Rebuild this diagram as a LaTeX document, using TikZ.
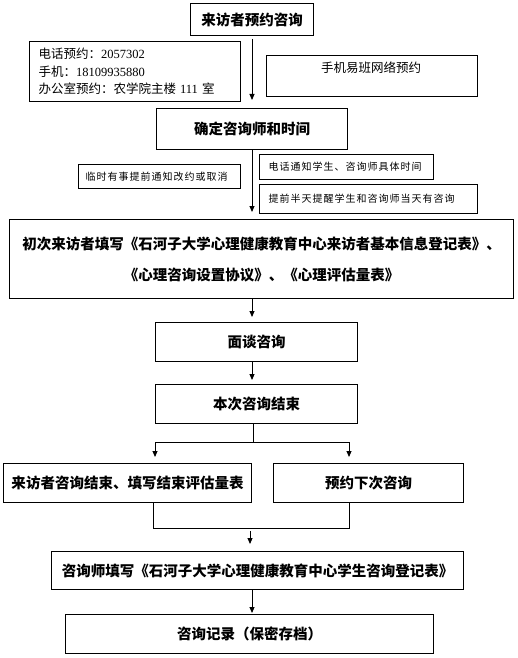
\documentclass[tikz,border=0pt]{standalone}
\usepackage{fontspec}
\setmainfont{Liberation Serif}
\newfontfamily\cjk{Noto Sans CJK SC}
\newfontfamily\cjksp[LetterSpace=10]{Noto Sans CJK SC}
\usetikzlibrary{arrows.meta}
\tikzset{
  box/.style={draw, line width=1pt, inner sep=0pt, anchor=north west},
  bigtxt/.style={font=\cjk\bfseries\fontsize{14.5}{31}\selectfont},
  midtxt/.style={font=\fontsize{12.5}{17.5}\selectfont},
  smallbox/.style={box, align=left, font=\cjksp\fontsize{10}{12}\selectfont},
  arr/.style={-{Triangle[length=6pt,width=5pt]}, line width=0.9pt},
  ln/.style={line width=0.9pt}
}
\begin{document}
\begin{tikzpicture}[x=1pt,y=-1pt]
\useasboundingbox (0,0) rectangle (517,658);
% boxes
\node[box, bigtxt, minimum width=123pt, minimum height=32pt] (b1) at (190,3) {来访者预约咨询};
\node[box, midtxt, align=left, text width=193pt, inner xsep=9pt, minimum height=60pt] (b2) at (29,41)
  {{\cjk 电话预约：}2057302\\{\cjk 手机：}18109935880\\{\cjk 办公室预约：农学院主楼} 111 {\cjk 室}};
\node[box, minimum width=211pt, minimum height=41pt] (b3) at (266,55) {};
\node[midtxt, font=\cjk\fontsize{12.5}{15}\selectfont] (t3) at (371,68) {手机易班网络预约};
\node[box, bigtxt, minimum width=191pt, minimum height=41pt] (b4) at (156,108) {确定咨询师和时间};
\node[smallbox, text width=148pt, inner xsep=7pt, minimum height=24pt] (b5) at (78,164) {临时有事提前通知改约或取消};
\node[smallbox, text width=156pt, inner xsep=9pt, minimum height=25pt] (b6) at (259,154) {电话通知学生、咨询师具体时间};
\node[smallbox, text width=200pt, inner xsep=9pt, minimum height=29pt] (b7) at (259,184) {提前半天提醒学生和咨询师当天有咨询};
\node[box, bigtxt, align=center, minimum width=504pt, minimum height=79pt] (b8) at (9,219)
  {初次来访者填写《石河子大学心理健康教育中心来访者基本信息登记表》、\\《心理咨询设置协议》、《心理评估量表》};
\node[box, bigtxt, minimum width=202pt, minimum height=39pt] (b9) at (155,322) {面谈咨询};
\node[box, bigtxt, minimum width=202pt, minimum height=39pt] (b10) at (155,384) {本次咨询结束};
\node[box, bigtxt, minimum width=248pt, minimum height=39pt] (b11) at (3,463) {来访者咨询结束、填写结束评估量表};
\node[box, bigtxt, minimum width=190pt, minimum height=39pt] (b12) at (273,463) {预约下次咨询};
\node[box, bigtxt, minimum width=412pt, minimum height=38pt] (b13) at (51,551) {咨询师填写《石河子大学心理健康教育中心学生咨询登记表》};
\node[box, bigtxt, minimum width=368pt, minimum height=39pt] (b14) at (65,614) {咨询记录（保密存档）};
% connectors
\draw[arr, shorten <=3pt, shorten >=8pt] (b1.south) -- (b4.north);
\draw[arr, shorten >=7pt] (b4.south) -- (b4.south |- b8.north);
\draw[arr, shorten >=5pt] (b8.south -| b4.south) -- (b9.north -| b4.south);
\draw[arr, shorten >=4pt] (b9.south -| b4.south) -- (b10.north -| b4.south);
\coordinate (j0) at (253,442);
\coordinate (j1) at (155,442);
\coordinate (j2) at (349,442);
\draw[ln] (b10.south -| j0) -- (j0);
\draw[ln] (j1) -- (j2);
\draw[arr, shorten >=6pt] (j1) -- (j1 |- b11.north);
\draw[arr, shorten >=6pt] (j2) -- (j2 |- b12.north);
\coordinate (m1) at (153,528);
\coordinate (m2) at (349,528);
\draw[ln] (b11.south -| m1) -- (m1) -- (m2) -- (b12.south -| m2);
\coordinate (m3) at (250,531);
\draw[arr, shorten >=7pt] (m3) -- (m3 |- b13.north);
\draw[arr, shorten >=1pt] (b13.south -| b4.south) -- (b14.north -| b4.south);
\end{tikzpicture}
\end{document}
